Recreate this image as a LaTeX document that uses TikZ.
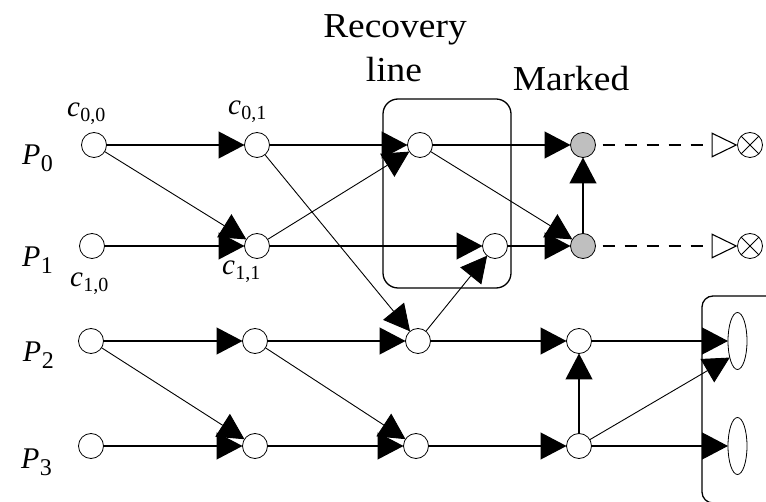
\documentclass[tikz,border=0pt]{standalone}
\usepackage{fontspec}
\setmainfont{Liberation Serif}
\usetikzlibrary{arrows.meta,shapes.geometric}

% process label P_i and checkpoint label c_{i,j}
\newcommand\plab[2]{\fontsize{30}{30}\selectfont\textit{#1}\kern0.5pt\raisebox{-7pt}{\fontsize{24}{24}\selectfont #2}}
\newcommand\clab[1]{\fontsize{29}{29}\selectfont\textit{c}\kern0.5pt\raisebox{-5pt}{\fontsize{20}{20}\selectfont #1}}
\newcommand\bigtext[1]{\fontsize{35}{35}\selectfont\scalebox{1.07}[1]{#1}}

\tikzset{
  ckpt/.style={circle,draw,line width=0.8pt,minimum size=25pt,inner sep=0pt,outer sep=0pt,fill=white},
  marked/.style={ckpt,fill=black!25},
  endpt/.style={ellipse,draw,line width=0.8pt,minimum width=19pt,minimum height=57pt,inner sep=0pt,outer sep=0pt},
  lost/.style={circle,draw,line width=0.8pt,minimum size=25pt,inner sep=0pt,outer sep=0pt,
    path picture={\draw[line width=0.8pt] (path picture bounding box.north west) -- (path picture bounding box.south east)
      (path picture bounding box.south west) -- (path picture bounding box.north east);}},
  bigtip/.tip={Triangle[length=26pt,width=27pt]},
  msg/.style={line width=1.2pt,-bigtip},
  xmsg/.style={line width=0.9pt,-bigtip},
  lostmsg/.style={line width=1.1pt,dash pattern=on 12pt off 10pt,dash phase=15pt,
    -{Triangle[open,length=26pt,width=25pt,fill=white]}},
  frame/.style={draw,line width=1.3pt,rounded corners=15pt},
  lbl/.style={inner sep=0pt,outer sep=0pt,anchor=base west},
  heading/.style={inner sep=0pt,outer sep=0pt,anchor=base},
}

\begin{document}
\begin{tikzpicture}[x=1pt,y=-1pt]
\useasboundingbox (0,0) rectangle (766,502);
\clip (0,0) rectangle (766,502);

% recovery line and final-state frames
\draw[frame] (383,99) rectangle (511,288);
\draw[frame,rounded corners=11pt] (702,296) rectangle (800,503);

% checkpoints
\node[ckpt]   (a0) at (94,145)  {};
\node[ckpt]   (a1) at (257,145) {};
\node[ckpt]   (a2) at (420,145) {};
\node[marked] (a3) at (583,145) {};
\node[lost]   (x0) at (750,145) {};

\node[ckpt]   (b0) at (92,246)  {};
\node[ckpt]   (b1) at (257,246) {};
\node[ckpt]   (b2) at (495,246) {};
\node[marked] (b3) at (583,246) {};
\node[lost]   (x1) at (750,246) {};

\node[ckpt]   (d0) at (91,341)  {};
\node[ckpt]   (d1) at (255,341) {};
\node[ckpt]   (d2) at (418,341) {};
\node[ckpt]   (d3) at (579,341) {};
\node[endpt]  (e2) at (737.5,341) {};

\node[ckpt]   (f0) at (91,446)  {};
\node[ckpt]   (f1) at (255,446) {};
\node[ckpt]   (f2) at (416,446) {};
\node[ckpt]   (f3) at (579,446) {};
\node[endpt]  (e3) at (737.5,446) {};

% process time lines
\draw[msg] (a0) -- (a1);
\draw[msg] (a1) -- (a2);
\draw[msg] (a2) -- (a3);
\draw[msg] (b0) -- (b1);
\draw[msg] (b1) -- (b2);
\draw[msg] (b2) -- (b3);
\draw[msg] (d0) -- (d1);
\draw[msg] (d1) -- (d2);
\draw[msg] (d2) -- (d3);
\draw[msg] (d3) -- (e2);
\draw[msg] (f0) -- (f1);
\draw[msg] (f1) -- (f2);
\draw[msg] (f2) -- (f3);
\draw[msg] (f3) -- (e3);
\draw[msg] (b3) -- (a3);
\draw[msg] (f3) -- (d3);

% messages between processes
\draw[xmsg] (a0) -- (b1);
\draw[xmsg] (b1) -- (a2);
\draw[xmsg] (a1) -- (d2);
\draw[xmsg] (a2) -- (b3);
\draw[xmsg] (d2) -- (b2);
\draw[xmsg] (d0) -- (f1);
\draw[xmsg] (d1) -- (f2);
\draw[xmsg] (f3) -- (e2.245);

% discarded continuations
\draw[lostmsg] (a3) -- (x0);
\draw[lostmsg] (b3) -- (x1);

% labels
\node[lbl] (p0) at (22,165) {\plab{P}{0}};
\node[lbl] (p1) at (22,267) {\plab{P}{1}};
\node[lbl] (p2) at (23,362) {\plab{P}{2}};
\node[lbl] (p3) at (21,468) {\plab{P}{3}};

\node[lbl] (c00) at (67,117)  {\clab{0,0}};
\node[lbl] (c01) at (228,115) {\clab{0,1}};
\node[lbl] (c10) at (70,287)  {\clab{1,0}};
\node[lbl] (c11) at (222,275) {\clab{1,1}};

\node[heading] (rec1) at (395,38) {\bigtext{Recovery}};
\node[heading] (rec2) at (394,82) {\bigtext{line}};
\node[heading] (mark) at (571,91) {\bigtext{Marked}};
\end{tikzpicture}
\end{document}
